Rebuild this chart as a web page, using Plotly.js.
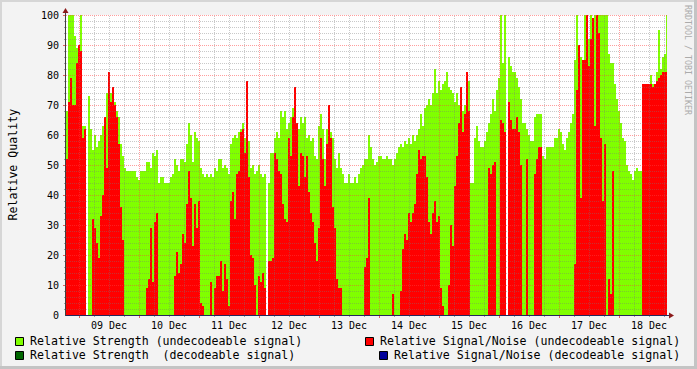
<!DOCTYPE html>
<html>
<head>
<meta charset="utf-8">
<script src="https://cdn.plot.ly/plotly-3.0.1.min.js"></script>
<style>
html,body{margin:0;padding:0;background:#F3F3F3;overflow:hidden;}
#chart{width:697px;height:369px;}
</style>
</head>
<body>
<div id="chart"></div>
<script>
// ---- data (time in hours from 08 Dec 00:00, one sample every 48 min) ----
const START_HOUR = 19.2;
const STEP_HOURS = 0.8;
const dayLabels = ['09 Dec','10 Dec','11 Dec','12 Dec','13 Dec','14 Dec','15 Dec','16 Dec','17 Dec','18 Dec'];
const dayLabelHours = [36,60,84,108,132,156,180,204,228,252];
const yTicks = [0,10,20,30,40,50,60,70,80,90,100];

// Relative Strength (undecodeable signal)
const strength = [
68,100,100,100,93,89,84,100,63,63,null,73,62,55,60,56,58,60,63,63,74,71,74,74,71,68,66,57,53,49,48,48,48,48,48,46,45,48,48,48,51,51,49,54,53,55,44,46,46,44,44,44,
46,47,52,50,48,52,52,51,57,64,60,51,61,59,58,49,47,46,47,46,47,46,49,48,52,52,49,50,49,47,57,59,60,59,61,62,64,59,68,58,49,50,47,48,50,47,46,47,null,44,54,54,59,
61,59,68,66,68,62,64,66,69,73,62,62,66,64,66,59,60,58,59,53,52,63,67,62,52,62,69,61,59,52,49,54,49,47,44,44,47,44,44,46,44,47,49,50,52,52,60,56,52,50,51,53,
53,52,52,53,52,52,50,52,54,56,57,56,58,57,59,57,60,58,60,62,67,63,69,70,72,70,74,82,74,78,75,77,78,81,76,75,74,71,74,70,76,68,70,81,78,44,44,59,63,58,56,56,58,
61,64,67,72,68,75,79,100,84,100,null,86,83,81,81,79,76,72,64,64,62,60,58,58,66,67,67,67,53,52,56,56,56,56,59,59,62,61,57,55,59,61,64,67,85,100,89,86,81,100,100,92,
100,86,100,100,100,100,100,100,100,87,84,84,77,72,68,64,59,58,50,48,47,45,48,49,48,48,77,77,77,77,80,77,77,81,95,82,86,87,100
];

// Relative Signal/Noise (undecodeable signal)
const snr = [
52,71,79,70,70,84,90,88,59,62,null,0,0,32,29,24,19,33,40,66,49,81,71,76,70,66,57,36,25,0,0,0,0,0,0,0,0,0,0,0,9,12,29,11,31,34,0,0,0,0,0,0,
0,0,13,21,14,17,27,24,37,48,39,23,37,29,38,4,3,0,0,0,11,0,9,13,13,18,8,17,12,3,38,41,32,47,48,61,62,54,78,46,20,19,10,0,13,11,14,9,null,18,18,19,54,
52,48,47,37,32,31,59,53,66,76,64,43,54,53,46,53,41,34,31,24,18,29,59,52,43,57,70,59,36,29,12,9,9,0,0,0,0,0,0,0,0,0,0,0,16,19,39,0,0,0,0,0,
0,0,0,0,0,0,7,0,0,0,8,22,27,25,34,31,34,37,47,55,52,53,53,46,31,27,34,38,31,33,9,3,0,0,10,30,23,43,53,64,76,61,67,81,68,0,0,0,0,0,0,0,0,
0,49,47,50,51,0,0,65,64,61,null,71,65,62,62,66,61,50,0,0,52,0,0,0,47,52,56,56,0,0,0,0,0,0,0,0,0,0,0,0,0,0,0,0,17,75,90,39,85,85,100,83,
92,99,63,100,94,59,38,57,0,12,7,48,0,0,0,0,0,0,0,0,0,0,0,0,0,0,77,77,77,77,77,76,77,78,79,80,81,81,81
];

const legendLabels = [
  'Relative Strength (undecodeable signal)',
  'Relative Strength  (decodeable signal)',
  'Relative Signal/Noise (undecodeable signal)',
  'Relative Signal/Noise (decodeable signal)'
];
const legendColors = ['#80FF00','#006600','#FF0000','#000099'];

// ---- build ----
const times = strength.map((_, i) => START_HOUR + STEP_HOURS * i);
const FONT = 'DejaVu Sans Mono, monospace';

const W = 697, H = 369, ML = 66, MR = 30, MT = 15, MB = 54;
const PW = W - ML - MR, PH = H - MT - MB;
const X = px => (px - ML) / PW;          // pixel -> paper
const Y = py => (H - MB - py) / PH;
const HX = 0.5 / 2.5;   // half a pixel in hours
const HY = 0.5 / 3;     // half a pixel in value units

const traces = [
  {type:'bar', x: times, y: strength, width: STEP_HOURS,
   marker:{color:legendColors[0], line:{width:0}}, name: legendLabels[0], hoverinfo:'skip'},
  {type:'bar', x: times, y: snr, width: STEP_HOURS,
   marker:{color:legendColors[2], line:{width:0}}, name: legendLabels[2], hoverinfo:'skip'}
];

const shapes = [];
const minorC = 'rgba(120,120,120,0.4)';
const majorC = 'rgba(255,60,60,0.5)';
const xmin = START_HOUR - STEP_HOURS/2, xmax = xmin + PW/2.5;
// vertical grid
for (let h = 24; h < xmax; h += 6) {
  const major = (h % 24 === 0);
  shapes.push({type:'line', layer:'above', xref:'x', yref:'y', x0:h+HX, x1:h+HX, y0:0, y1:100,
    line:{color: major ? majorC : minorC, width:1, dash:'1px,1px'}});
  shapes.push({type:'line', layer:'above', xref:'x', yref:'paper', x0:h+HX, x1:h+HX, y0:-(major?3:2)/PH, y1:0,
    line:{color: major ? '#E06060' : '#A0A0A0', width:1}});
}
// horizontal grid
for (let v = 2; v <= 100; v += 2) {
  const major = (v % 10 === 0);
  shapes.push({type:'line', layer:'above', xref:'paper', yref:'y', x0:0, x1:1, y0:v-HY, y1:v-HY,
    line:{color: major ? majorC : minorC, width:1, dash:'1px,1px'}});
  shapes.push({type:'line', layer:'above', xref:'paper', yref:'y', x0:-(major?3:2)/PW, x1:0, y0:v-HY, y1:v-HY,
    line:{color: major ? '#E06060' : '#A0A0A0', width:1}});
}
// axes
shapes.push({type:'line', layer:'above', xref:'paper', yref:'paper', x0:X(66), x1:X(670), y0:Y(315.5), y1:Y(315.5),
  line:{color:'#26265a', width:1}});
shapes.push({type:'line', layer:'above', xref:'paper', yref:'paper', x0:X(65.5), x1:X(65.5), y0:Y(316), y1:Y(11),
  line:{color:'#404040', width:1}});
// arrows
shapes.push({type:'path', layer:'above', xref:'paper', yref:'paper',
  path:`M ${X(669)} ${Y(312.5)} L ${X(669)} ${Y(318.5)} L ${X(674)} ${Y(315.5)} Z`,
  fillcolor:'#8B1A1A', line:{width:0}});
shapes.push({type:'path', layer:'above', xref:'paper', yref:'paper',
  path:`M ${X(62.5)} ${Y(13)} L ${X(68.5)} ${Y(13)} L ${X(65.5)} ${Y(8)} Z`,
  fillcolor:'#8B1A1A', line:{width:0}});
// legend squares
const legendPos = [[15,341],[15,355],[365,341],[379,355]];
legendPos.forEach((p, k) => {
  shapes.push({type:'rect', layer:'above', xref:'paper', yref:'paper',
    x0:X(p[0]+0.5), x1:X(p[0]+8.5), y0:Y(p[1]-3.5), y1:Y(p[1]+4.5),
    fillcolor:legendColors[k], line:{color:'#000000', width:1}});
});
// border
shapes.push({type:'rect', layer:'below', xref:'paper', yref:'paper', x0:X(0), x1:X(2), y0:Y(0), y1:Y(H), fillcolor:'#D6D6D6', line:{width:0}});
shapes.push({type:'rect', layer:'below', xref:'paper', yref:'paper', x0:X(0), x1:X(W), y0:Y(0), y1:Y(2), fillcolor:'#D6D6D6', line:{width:0}});
shapes.push({type:'rect', layer:'below', xref:'paper', yref:'paper', x0:X(W-3), x1:X(W), y0:Y(0), y1:Y(H), fillcolor:'#C4C4C4', line:{width:0}});
shapes.push({type:'rect', layer:'below', xref:'paper', yref:'paper', x0:X(0), x1:X(W), y0:Y(H-3), y1:Y(H), fillcolor:'#C4C4C4', line:{width:0}});

const annotations = [];
legendPos.forEach((p, k) => {
  annotations.push({xref:'paper', yref:'paper', x:X(p[0]+14), y:Y(p[1]), xanchor:'left', yanchor:'middle',
    text: legendLabels[k].replace(/ /g,'&nbsp;'), showarrow:false, borderpad:0,
    font:{family:FONT, size:11.6, color:'#000'}});
});
annotations.push({xref:'paper', yref:'paper', x:X(12.5), y:Y(165), xanchor:'center', yanchor:'middle',
  text:'Relative Quality', textangle:-90, showarrow:false, font:{family:FONT, size:11.6, color:'#000'}});
annotations.push({xref:'paper', yref:'paper', x:X(688), y:Y(60), xanchor:'center', yanchor:'middle',
  text:'RRDTOOL / TOBI OETIKER', textangle:90, showarrow:false, font:{family:FONT, size:8.3, color:'#ABABAB'}});

const layout = {
  width: W, height: H,
  margin: {l:ML, r:MR, t:MT, b:MB, pad:0},
  paper_bgcolor:'#F3F3F3', plot_bgcolor:'#FFFFFF',
  barmode:'overlay', bargap:0, showlegend:false,
  font:{family:FONT, size:10, color:'#000'},
  xaxis:{range:[xmin, xmax], tickmode:'array', tickvals:dayLabelHours, ticktext:dayLabels,
    showgrid:false, zeroline:false, showline:false, ticks:'outside', ticklen:1, tickcolor:'rgba(0,0,0,0)',
    tickfont:{family:FONT, size:10, color:'#000'}, fixedrange:true},
  yaxis:{range:[0,100], tickmode:'array', tickvals:yTicks, showgrid:false, zeroline:false, showline:false,
    ticks:'outside', ticklen:4, tickcolor:'rgba(0,0,0,0)',
    tickfont:{family:FONT, size:10, color:'#000'}, fixedrange:true},
  shapes, annotations
};

Plotly.newPlot('chart', traces, layout, {staticPlot:true, displayModeBar:false});
</script>
</body>
</html>
